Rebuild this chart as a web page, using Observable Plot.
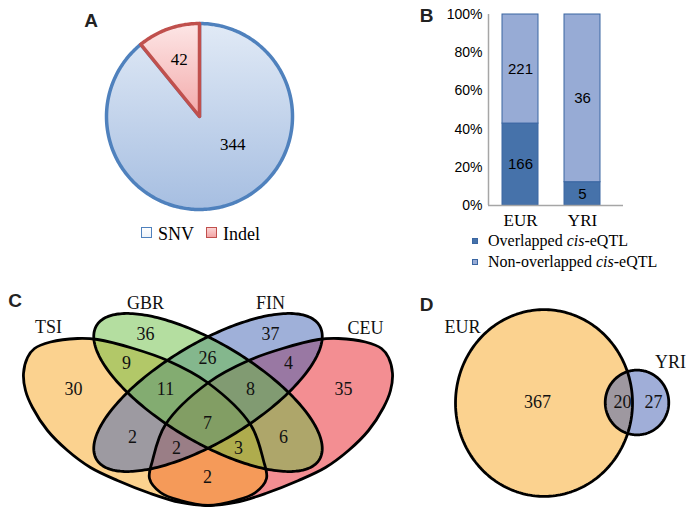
<!DOCTYPE html>
<html>
<head>
<meta charset="utf-8">
<script src="https://cdn.jsdelivr.net/npm/d3@7"></script>
<script src="https://cdn.jsdelivr.net/npm/@observablehq/plot@0.6"></script>
<style>
  body { margin: 0; background: #fff; }
  #wrap { position: relative; width: 692px; height: 513px; overflow: hidden; background: #fff; }
  #wrap > * { position: absolute; }
  .leg { font-family: "Liberation Serif", "Times New Roman", serif; color: #000; white-space: nowrap; line-height: 1; }
  .sq { box-sizing: border-box; }
</style>
</head>
<body>
<div id="wrap"></div>
<script>
// ---------------- DATA ----------------
// Panel A: pie
const pieCategories = ["SNV", "Indel"];
const pieValues = [344, 42];

// Panel B: stacked percentage bars
const populations = ["EUR", "YRI"];
const barTypes = ["Overlapped cis-eQTL", "Non-overlapped cis-eQTL"];
const overlappedCounts = [166, 5];
const nonOverlappedCounts = [221, 36];
const percentTicks = [0, 0.2, 0.4, 0.6, 0.8, 1];

// Panel C: 4-set Venn
const venn4Sets = ["TSI", "GBR", "FIN", "CEU"];
const venn4Regions = ["TSI", "GBR", "FIN", "CEU", "TSI&GBR", "GBR&FIN", "FIN&CEU",
  "TSI&GBR&FIN", "GBR&FIN&CEU", "TSI&GBR&FIN&CEU", "TSI&FIN", "GBR&CEU",
  "TSI&FIN&CEU", "TSI&GBR&CEU", "TSI&CEU"];
const venn4Counts = [30, 36, 37, 35, 9, 26, 4, 11, 8, 7, 2, 6, 2, 3, 2];

// Panel D: 2-set Venn
const venn2Sets = ["EUR", "YRI"];
const venn2Regions = ["EUR", "EUR&YRI", "YRI"];
const venn2Counts = [367, 20, 27];

// ---------------- LAYOUT (geometry, not data) ----------------
const pie = {cx: 199, cy: 116, r: 93};
const venn4LabelPos = [[73,389],[145,334],[270,334],[343,389],[126,363],[207,358],[288,363],
  [165,389],[250,389],[207,423],[132,437],[283,437],[176,448],[238,448],[207,477]];
const venn4SetLabelPos = [[48,327],[145,303],[270,303],[365,328]];
const venn2LabelPos = [[537,402],[622,402],[653,402]];
const venn2SetLabelPos = [[462,327],[670,362]];
// TSI outline (CEU is its mirror image)
const tsiOutline = [[23,373],[27,357],[34,348],[50,341.5],[77,338],[97,339],[133,348],[167,360],
  [207,382],[250,424],[263,460],[266,478],[255,492],[235,500],[207,505],[180,502],[150,493],
  [117,480],[90,467],[67,450],[47,430],[32,407],[25,390]];
const mirrorX = 415;

function ellipse(cx, cy, A, B, phiDeg, n = 240) {
  const p = phiDeg * Math.PI / 180, c = Math.cos(p), s = Math.sin(p);
  return d3.range(n + 1).map(i => {
    const t = 2 * Math.PI * i / n, u = A * Math.cos(t), w = B * Math.sin(t);
    return {x: cx + u * c - w * s, y: cy + u * s + w * c};
  });
}
const setShape = {
  TSI: tsiOutline.map(([x, y]) => ({x, y})),
  CEU: tsiOutline.map(([x, y]) => ({x: mirrorX - x, y})),
  GBR: ellipse(207.5, 392, 130, 49, 31),
  FIN: ellipse(207.5, 392, 130, 49, -31)
};
const setCurve = {TSI: "catmull-rom-closed", CEU: "catmull-rom-closed", GBR: "linear", FIN: "linear"};
const setColor = {TSI: "#f7a51f", GBR: "#69bd41", FIN: "#3f61b3", CEU: "#e71d25"};
const drawOrder = ["CEU", "TSI", "FIN", "GBR"];

// Panel D circles: radius from set totals
const eurTotal = venn2Counts[0] + venn2Counts[1];
const yriTotal = venn2Counts[1] + venn2Counts[2];
const rScale = d3.scaleSqrt().domain([0, eurTotal]).range([0, 88.5]);
const circ2 = [
  {set: "EUR", pts: ellipse(543.5, 402.5, rScale(eurTotal), rScale(eurTotal) * 1.055, 0), color: "#f7a51f"},
  {set: "YRI", pts: ellipse(636.5, 402, rScale(yriTotal) * 1.03, rScale(yriTotal) * 1.05, 0), color: "#415db1"}
];

// ---------------- PIE geometry from data ----------------
const arcs = d3.pie().sort(null).value(d => d)(pieValues);
function slicePoly(a) {
  const pts = [{x: pie.cx, y: pie.cy}];
  const steps = Math.max(2, Math.ceil((a.endAngle - a.startAngle) / (Math.PI / 180)));
  for (let i = 0; i <= steps; i++) {
    const ang = a.startAngle + (a.endAngle - a.startAngle) * i / steps;
    pts.push({x: pie.cx + pie.r * Math.sin(ang), y: pie.cy - pie.r * Math.cos(ang)});
  }
  pts.push({x: pie.cx, y: pie.cy});
  return pts;
}
const pieFill = ["url(#snvGrad)", "url(#indelGrad)"];
const pieStroke = ["#4f81bd", "#c0504d"];
const pieLabelData = arcs.map((a, i) => {
  const mid = (a.startAngle + a.endAngle) / 2, rr = pie.r * 0.65;
  return {x: pie.cx + rr * Math.sin(mid), y: pie.cy - rr * Math.cos(mid), text: String(pieValues[i]), i};
});

const serif = "Liberation Serif, Times New Roman, serif";
const sans = "Liberation Sans, Arial, sans-serif";

const marks = [];
// Pie
arcs.forEach((a, i) => {
  marks.push(Plot.line(slicePoly(a), {x: "x", y: "y", fill: pieFill[i], stroke: pieStroke[i], strokeWidth: 3.5}));
});
marks.push(Plot.text(pieLabelData.filter(d => d.i === 1), {x: "x", y: "y", text: "text", fontFamily: serif, fontSize: 17, fill: "#000"}));
marks.push(Plot.text(pieLabelData.filter(d => d.i === 0), {x: "x", y: "y", text: "text", dx: 13, dy: -29, fontFamily: serif, fontSize: 17, fill: "#000"}));

// Venn 4 fills
drawOrder.forEach(s => {
  marks.push(Plot.line(setShape[s], {x: "x", y: "y", curve: setCurve[s], fill: setColor[s], fillOpacity: 0.5, stroke: "none"}));
});
drawOrder.forEach(s => {
  marks.push(Plot.line(setShape[s], {x: "x", y: "y", curve: setCurve[s], fill: "none", stroke: "#000", strokeWidth: 2.8}));
});
marks.push(Plot.text(venn4Regions.map((r, i) => ({x: venn4LabelPos[i][0], y: venn4LabelPos[i][1], t: String(venn4Counts[i])})),
  {x: "x", y: "y", text: "t", fontFamily: serif, fontSize: 18, fill: "#111"}));
marks.push(Plot.text(venn4Sets.map((s, i) => ({x: venn4SetLabelPos[i][0], y: venn4SetLabelPos[i][1], t: s})),
  {x: "x", y: "y", text: "t", fontFamily: serif, fontSize: 18, fill: "#111"}));

// Venn 2
circ2.forEach(c => marks.push(Plot.line(c.pts, {x: "x", y: "y", fill: c.color, fillOpacity: 0.5, stroke: "none"})));
circ2.forEach(c => marks.push(Plot.line(c.pts, {x: "x", y: "y", fill: "none", stroke: "#000", strokeWidth: 2.8})));
marks.push(Plot.text(venn2Regions.map((r, i) => ({x: venn2LabelPos[i][0], y: venn2LabelPos[i][1], t: String(venn2Counts[i])})),
  {x: "x", y: "y", text: "t", fontFamily: serif, fontSize: 18, fill: "#111"}));
marks.push(Plot.text(venn2Sets.map((s, i) => ({x: venn2SetLabelPos[i][0], y: venn2SetLabelPos[i][1], t: s})),
  {x: "x", y: "y", text: "t", fontFamily: serif, fontSize: 18, fill: "#111"}));

// Panel letters
const panelLetters = [{t: "A", x: 90.5, y: 20}, {t: "B", x: 426, y: 15}, {t: "C", x: 14.5, y: 300}, {t: "D", x: 426, y: 304.5}];
marks.push(Plot.text(panelLetters, {x: "x", y: "y", text: "t", fontFamily: sans, fontWeight: "bold", fontSize: 19, fill: "#222"}));

const diagram = Plot.plot({
  width: 692, height: 513, margin: 0,
  x: {domain: [0, 692], range: [0, 692], axis: null},
  y: {domain: [0, 513], range: [0, 513], axis: null},
  style: {background: "transparent"},
  marks
});
// gradients for the pie
const defs = d3.select(diagram).insert("defs", ":first-child");
const g1 = defs.append("linearGradient").attr("id", "snvGrad").attr("x1", 0).attr("y1", 0).attr("x2", 0).attr("y2", 1);
g1.append("stop").attr("offset", "0%").attr("stop-color", "#e1eaf6");
g1.append("stop").attr("offset", "100%").attr("stop-color", "#a6bee1");
const g2 = defs.append("linearGradient").attr("id", "indelGrad").attr("x1", 0).attr("y1", 0).attr("x2", 0).attr("y2", 1);
g2.append("stop").attr("offset", "0%").attr("stop-color", "#fde6e6");
g2.append("stop").attr("offset", "100%").attr("stop-color", "#f3aaaa");
diagram.style.left = "0px"; diagram.style.top = "0px";
document.getElementById("wrap").appendChild(diagram);

// ---------------- Panel B ----------------
const bData = populations.flatMap((p, i) => [
  {pop: p, type: barTypes[0], count: overlappedCounts[i]},
  {pop: p, type: barTypes[1], count: nonOverlappedCounts[i]}
]);
const bPlot = Plot.plot({
  width: 272, height: 232,
  marginLeft: 68, marginRight: 69, marginTop: 14, marginBottom: 27,
  style: {background: "transparent", fontFamily: sans, fontSize: "14px", color: "#000", overflow: "visible"},
  x: {domain: populations, range: [69, 193], padding: 0, tickSize: 0, tickPadding: 8, label: null},
  y: {domain: [0, 1], range: [205, 14], ticks: percentTicks, tickFormat: d3.format(".0%"), tickSize: 0, tickPadding: 6, label: null},
  color: {domain: barTypes, range: ["#4672aa", "#97abd5"]},
  marks: [
    Plot.barY(bData, {x: "pop", y: "count", fill: "type", offset: "normalize", stroke: "#3a66a2", strokeWidth: 1, insetLeft: 13, insetRight: 13}),
    Plot.text(bData, Plot.stackY({x: "pop", y: "count", z: "type", offset: "normalize", text: d => String(d.count), fontSize: 15, fontFamily: sans, fill: "#000"})),
    Plot.ruleY([0], {stroke: "#a6a6a6", strokeWidth: 1.5}),
    Plot.ruleX([populations[0]], {y1: 0, y2: 1, dx: -32, stroke: "#a6a6a6", strokeWidth: 1.5})
  ]
});
d3.select(bPlot).selectAll('g[aria-label^="x-axis"]')
  .attr("font-family", serif).attr("font-size", 17).style("font-family", serif).style("font-size", "17px");
bPlot.style.left = "420px"; bPlot.style.top = "0px";
document.getElementById("wrap").appendChild(bPlot);

// ---------------- Legends (HTML) ----------------
const wrap = document.getElementById("wrap");
function addEl(html, left, top) {
  const d = document.createElement("div");
  d.innerHTML = html; d.style.left = left + "px"; d.style.top = top + "px";
  wrap.appendChild(d);
  return d;
}
// Legend A
const legA = [
  {label: pieCategories[0], left: 141, bg: "linear-gradient(#ffffff,#eef3f9)", border: "#4f81bd"},
  {label: pieCategories[1], left: 206, bg: "linear-gradient(#fbd3d3,#f2a5a5)", border: "#c0504d"}
];
legA.forEach(l => {
  addEl(`<div class="sq" style="width:11px;height:11px;background:${l.bg};border:1.6px solid ${l.border}"></div>`, l.left, 227);
  addEl(`<div class="leg" style="font-size:18px">${l.label}</div>`, l.left + 17, 224.5);
});
// Legend B
const legBColors = ["#4672aa", "#97abd5"];
barTypes.forEach((t, i) => {
  const y = 241 + i * 21;
  addEl(`<div class="sq" style="width:6px;height:6px;background:${legBColors[i]};border:0.8px solid #3a66a2"></div>`, 472, y - 3);
  const html = t.replace("cis", "<i>cis</i>");
  addEl(`<div class="leg" style="font-size:16px">${html}</div>`, 488, y - 8);
});
</script>
</body>
</html>
